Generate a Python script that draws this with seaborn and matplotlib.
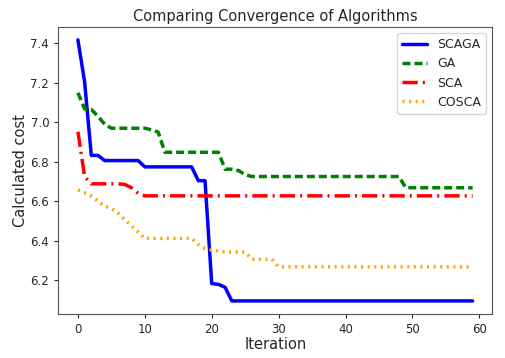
import matplotlib
matplotlib.use("Agg")
import matplotlib.pyplot as plt
import seaborn as sns
import numpy as np

# iterations 0..59
iterations = list(range(60))

# cost per iteration
scaga = ([7.418, 7.205, 6.832, 6.832] + [6.806] * 6 + [6.774] * 8 + [6.704] * 2
         + [6.182, 6.178, 6.163] + [6.094] * 37)
ga = ([7.150, 7.068, 7.065, 7.030, 6.990] + [6.970] * 6 + [6.962, 6.950]
      + [6.848] * 9 + [6.762] * 2 + [6.755, 6.735] + [6.725] * 23 + [6.668] * 11)
sca = ([6.952, 6.725] + [6.688] * 5 + [6.685, 6.668, 6.640] + [6.627] * 50)
cosca = ([6.656, 6.643, 6.626, 6.600, 6.575, 6.564, 6.540, 6.506, 6.475, 6.443]
         + [6.411] * 8 + [6.380, 6.360, 6.352, 6.347] + [6.342] * 4
         + [6.305] * 4 + [6.267] * 30)

sns.set_style("ticks")
plt.rcParams['font.family'] = ['DejaVu Sans']

fig, ax = plt.subplots(figsize=(5.06, 3.58), dpi=100)
fig.subplots_adjust(left=0.115, right=0.973, bottom=0.123, top=0.925)

lw = 2.5
sns.lineplot(x=iterations, y=scaga, ax=ax, color='blue', lw=lw, label='SCAGA')
sns.lineplot(x=iterations, y=ga, ax=ax, color='green', lw=lw, label='GA',
             linestyle=(0, (2.3, 1.15)))
sns.lineplot(x=iterations, y=sca, ax=ax, color='red', lw=lw, label='SCA',
             linestyle=(0, (4.4, 1.45, 0.6, 1.45)))
sns.lineplot(x=iterations, y=cosca, ax=ax, color='orange', lw=lw, label='COSCA',
             linestyle=(0, (0.6, 1.3)))

for s in ax.spines.values():
    s.set_visible(True)
    s.set_color('#555555')
    s.set_linewidth(0.8)

ax.set_title('Comparing Convergence of Algorithms', fontsize=10.5, pad=4)
ax.set_xlabel('Iteration', fontsize=10.5, labelpad=1)
ax.set_ylabel('Calculated cost', fontsize=10.5, labelpad=2)
ax.tick_params(labelsize=8.5, length=3)
ax.legend(loc='upper right', fontsize=9)

fig.savefig('out.png', dpi=100)
